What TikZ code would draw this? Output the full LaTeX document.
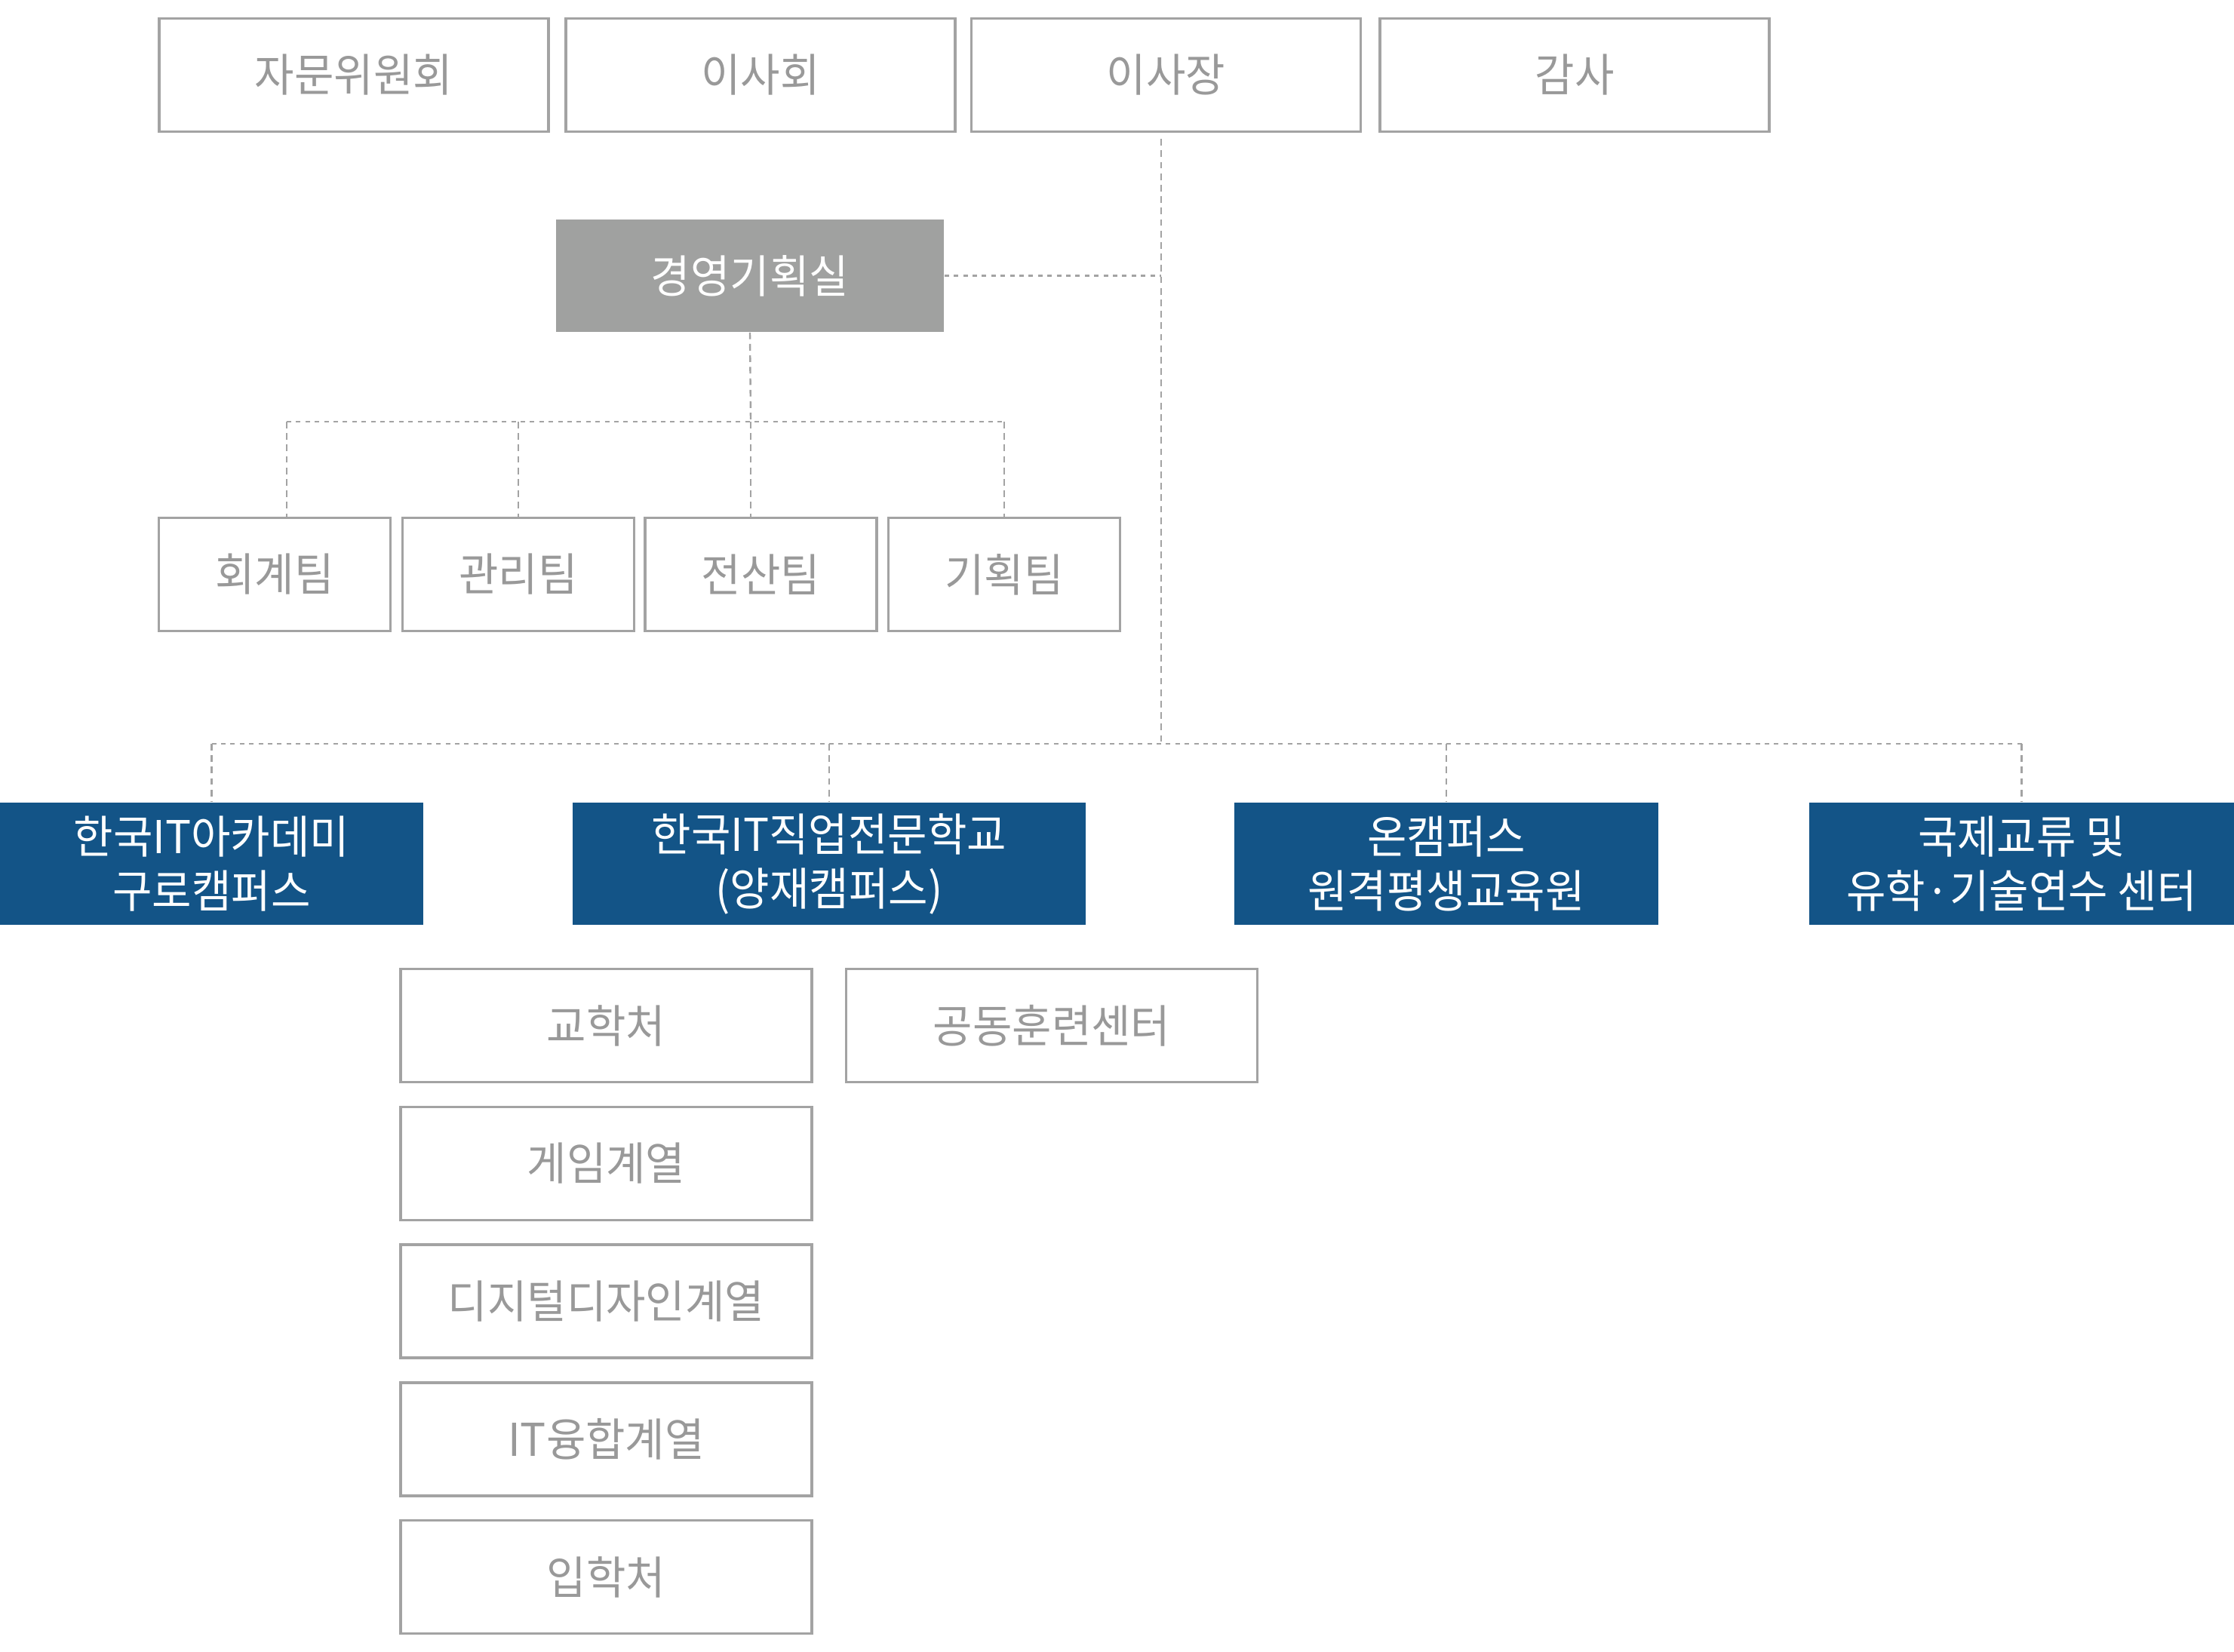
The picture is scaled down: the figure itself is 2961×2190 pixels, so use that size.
\documentclass[tikz,border=0pt]{standalone}
\usepackage{fontspec}
\setmainfont{Noto Sans CJK KR}[FakeStretch=0.95]
\definecolor{linegray}{HTML}{A3A3A3}
\definecolor{textgray}{HTML}{999999}
\definecolor{fillgray}{HTML}{A0A1A0}
\definecolor{navy}{HTML}{135487}

\begin{document}
\begin{tikzpicture}[x=0.25pt,y=-0.25pt,
    every node/.style={font=\fontsize{15pt}{18pt}\selectfont,inner sep=0pt},
    greybox/.style={draw=linegray,line width=0.9pt,text=textgray,minimum height=37.5pt},
    headbox/.style={fill=fillgray,text=white,minimum width=128.5pt,minimum height=37.25pt},
    campus/.style={fill=navy,text=white,align=center,minimum height=40.5pt},
    hdot/.style={draw=linegray,line width=0.65pt,dash pattern=on 1.5pt off 1.6pt},
    vdash/.style={draw=linegray,line width=0.6pt,dash pattern=on 2.2pt off 1.6pt}]
    \useasboundingbox (0,0) rectangle (2961,2190);

    \node[greybox,minimum width=129pt] (advisory) at (469,99.5) {자문위원회};
    \node[greybox,minimum width=129pt] (board) at (1008,99.5) {이사회};
    \node[greybox,minimum width=129pt] (chair) at (1545.5,99.5) {이사장};
    \node[greybox,minimum width=129pt] (audit) at (2087,99.5) {감사};

    \node[headbox] (plan) at (994,365.5) {경영기획실};

    \node[greybox,minimum width=76.75pt] (acct) at (364,761.5) {회계팀};
    \node[greybox,minimum width=76.75pt] (mgmt) at (687,761.5) {관리팀};
    \node[greybox,minimum width=76.75pt] (comp) at (1008.5,761.5) {전산팀};
    \node[greybox,minimum width=76.75pt] (planteam) at (1331,761.5) {기획팀};

    \node[campus,minimum width=140.25pt] (guro) at (280.5,1145) {한국IT아카데미\\구로캠퍼스};
    \node[campus,minimum width=170pt] (yangjae) at (1099,1145) {한국IT직업전문학교\\(양재캠퍼스)};
    \node[campus,minimum width=140.5pt] (online) at (1917,1145) {온캠퍼스\\원격평생교육원};
    \node[campus,minimum width=140.75pt] (intl) at (2679.5,1145) {국제교류 및\\유학·기술연수 센터};

    \node[greybox,minimum width=136.25pt] (academic) at (803.5,1359.5) {교학처};
    \node[greybox,minimum width=136.25pt] (training) at (1394,1359.5) {공동훈련센터};
    \node[greybox,minimum width=136.25pt] (game) at (803.5,1542.5) {게임계열};
    \node[greybox,minimum width=136.25pt] (design) at (803.5,1725) {디지털디자인계열};
    \node[greybox,minimum width=136.25pt] (itconv) at (803.5,1908) {IT융합계열};
    \node[greybox,minimum width=136.25pt] (admission) at (803.5,2090.5) {입학처};

    \coordinate (teambus) at (995,559);
    \coordinate (campusbus) at (1539,986);

    \draw[vdash] ([yshift=-2pt]campusbus |- chair.south) -- (campusbus);
    \draw[hdot] (plan.east) -- (plan.east -| campusbus);
    \draw[vdash] (plan.south) -- (teambus);
    \draw[hdot] ([xshift=4pt]acct.north |- teambus) -- (planteam.north |- teambus);
    \draw[vdash] ([xshift=4pt]acct.north |- teambus) -- ([xshift=4pt]acct.north);
    \draw[vdash] (mgmt.north |- teambus) -- (mgmt.north);
    \draw[vdash] (teambus) -- (teambus |- comp.north);
    \draw[vdash] (planteam.north |- teambus) -- (planteam.north);
    \draw[hdot] (guro.north |- campusbus) -- (intl.north |- campusbus);
    \foreach \c in {guro,yangjae,online,intl}
        \draw[vdash] (\c.north |- campusbus) -- (\c.north);
\end{tikzpicture}
\end{document}
